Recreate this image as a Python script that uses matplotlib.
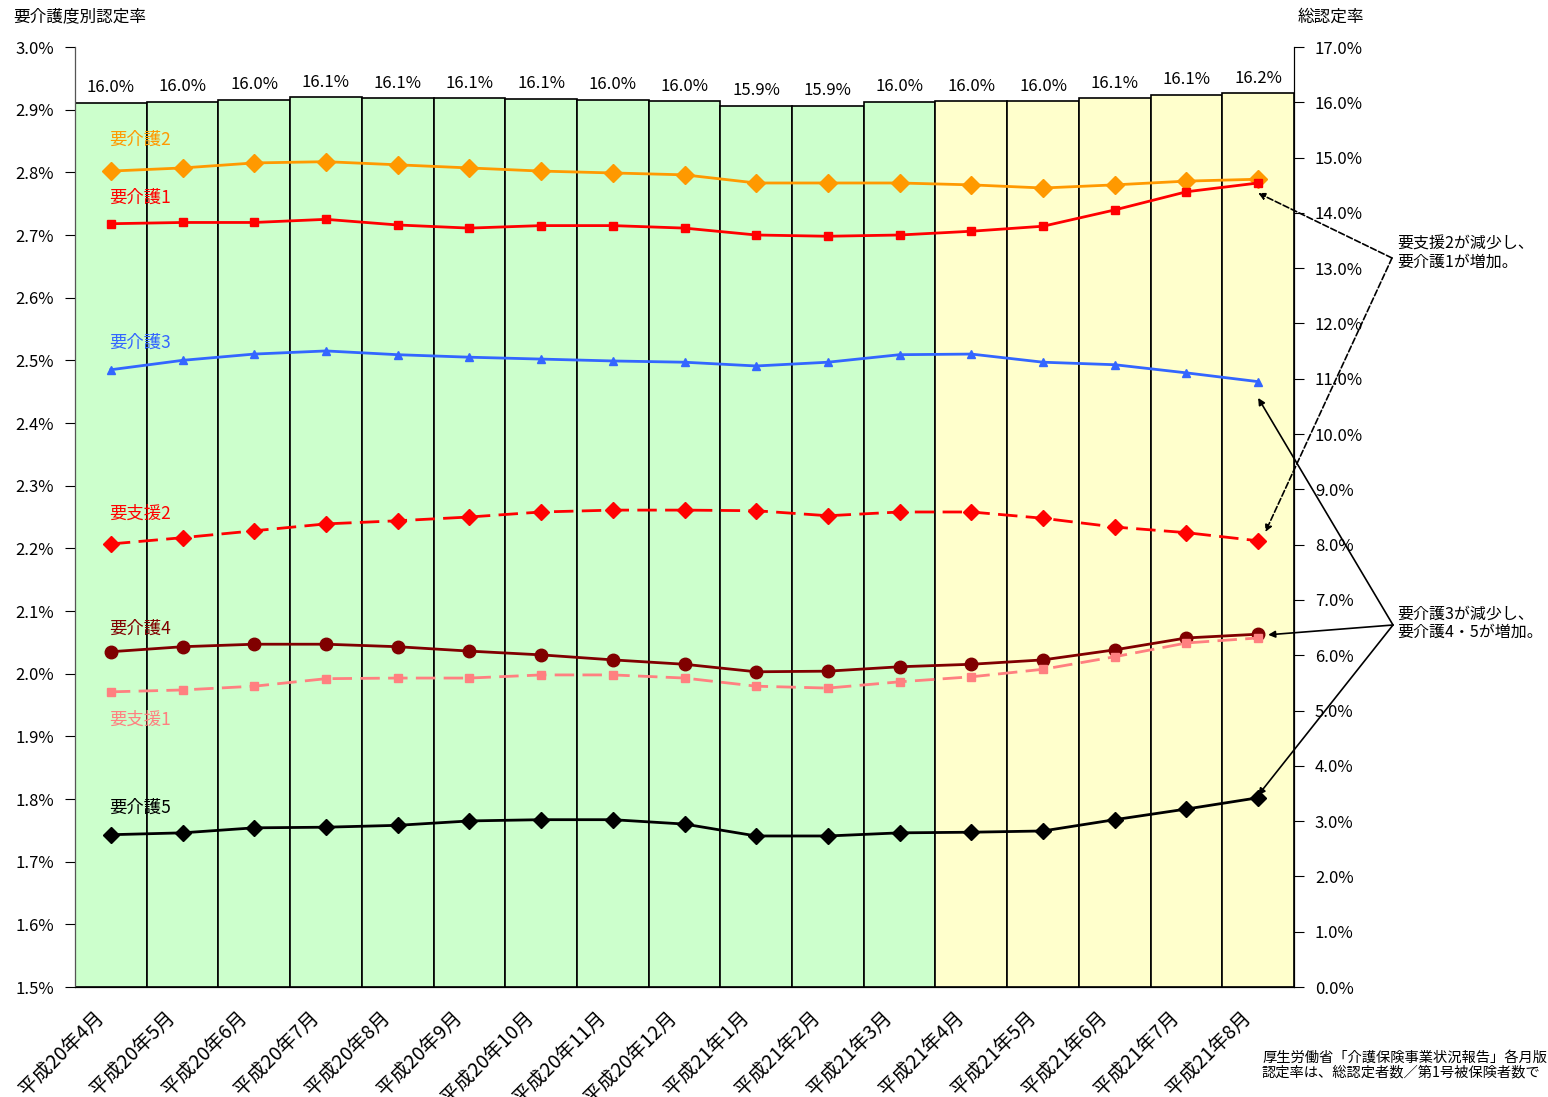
import matplotlib

matplotlib.use("Agg")
import matplotlib.pyplot as plt
import matplotlib.transforms as mtransforms
import numpy as np

plt.rcParams["font.family"] = ["Noto Sans CJK JP", "DejaVu Sans"]

# 月 (平成20年4月 ~ 平成21年8月)
months = ["平成20年4月", "平成20年5月", "平成20年6月", "平成20年7月", "平成20年8月",
          "平成20年9月", "平成20年10月", "平成20年11月", "平成20年12月", "平成21年1月",
          "平成21年2月", "平成21年3月", "平成21年4月", "平成21年5月", "平成21年6月",
          "平成21年7月", "平成21年8月"]

# 総認定率 (右軸, %)
total_rate = [15.99, 16.01, 16.04, 16.09, 16.07, 16.07, 16.06, 16.04, 16.02,
              15.94, 15.94, 16.01, 16.02, 16.02, 16.07, 16.13, 16.16]

# 要介護度別認定率 (左軸, %)
kaigo2 = [2.802, 2.807, 2.815, 2.817, 2.812, 2.807, 2.802, 2.799, 2.796,
          2.783, 2.783, 2.783, 2.780, 2.775, 2.780, 2.786, 2.789]
kaigo1 = [2.718, 2.720, 2.720, 2.725, 2.716, 2.711, 2.715, 2.715, 2.711,
          2.700, 2.698, 2.700, 2.706, 2.714, 2.740, 2.769, 2.783]
kaigo3 = [2.485, 2.500, 2.510, 2.515, 2.509, 2.505, 2.502, 2.499, 2.497,
          2.491, 2.497, 2.509, 2.510, 2.497, 2.493, 2.480, 2.466]
shien2 = [2.207, 2.217, 2.228, 2.239, 2.244, 2.250, 2.258, 2.261, 2.261,
          2.260, 2.252, 2.258, 2.258, 2.248, 2.234, 2.225, 2.212]
kaigo4 = [2.035, 2.043, 2.047, 2.047, 2.043, 2.036, 2.030, 2.022, 2.015,
          2.003, 2.004, 2.011, 2.015, 2.022, 2.038, 2.057, 2.063]
shien1 = [1.971, 1.974, 1.980, 1.992, 1.993, 1.993, 1.998, 1.998, 1.993,
          1.980, 1.977, 1.987, 1.995, 2.007, 2.027, 2.049, 2.057]
kaigo5 = [1.743, 1.746, 1.754, 1.755, 1.758, 1.765, 1.767, 1.767, 1.760,
          1.741, 1.741, 1.746, 1.747, 1.749, 1.767, 1.784, 1.802]

x = np.arange(len(months))

fig = plt.figure(figsize=(15.48, 10.97), dpi=100)
ax = fig.add_axes([75 / 1548, 1 - 987 / 1097, (1294 - 75) / 1548, (987 - 47) / 1097])

# 棒 (総認定率) -> 右軸
bar_colors = ["#CCFFCC"] * 12 + ["#FFFFCC"] * 5
ax.bar(x, total_rate, width=1.0, color=bar_colors, edgecolor="black", linewidth=1.2)
for i, v in enumerate(total_rate):
    ax.text(i, v + 0.12, f"{v:.1f}%", ha="center", va="bottom", fontsize=12)
ax.set_ylim(0, 17)
ax.set_xlim(-0.5, len(months) - 0.5)
ax.set_xticks(x)
ax.set_xticklabels(months, rotation=45, ha="right", rotation_mode="anchor", fontsize=14)
ax.tick_params(axis="x", length=0, pad=10)
offset = mtransforms.ScaledTranslation(-18 / 100, -6 / 100, fig.dpi_scale_trans)
for lab in ax.get_xticklabels():
    lab.set_transform(lab.get_transform() + offset)
ax.spines["top"].set_visible(False)

# 折れ線 (要介護度別) -> 左軸
axl = ax.twinx()
ax.yaxis.tick_right()
ax.set_yticks(np.arange(0, 17.1, 1.0))
ax.set_yticklabels([f"{t:.1f}%" for t in np.arange(0, 17.1, 1.0)], fontsize=12)
ax.tick_params(axis="y", direction="out", length=7, pad=8)

axl.yaxis.tick_left()
axl.set_ylim(1.5, 3.0)
axl.set_yticks(np.arange(1.5, 3.01, 0.1))
axl.set_yticklabels([f"{t:.1f}%" for t in np.arange(1.5, 3.01, 0.1)], fontsize=12)
axl.tick_params(axis="y", direction="out", length=7, pad=8)
axl.spines["top"].set_visible(False)
axl.spines["left"].set_color("#555555")

series = [
    ("要介護2", kaigo2, "#FF9900", "D", 9, "-", 2.852),
    ("要介護1", kaigo1, "#FF0000", "s", 6, "-", 2.759),
    ("要介護3", kaigo3, "#3366FF", "^", 6, "-", 2.528),
    ("要支援2", shien2, "#FF0000", "D", 8, "--", 2.255),
    ("要介護4", kaigo4, "#800000", "o", 9, "-", 2.071),
    ("要支援1", shien1, "#FF8080", "s", 6, "--", 1.926),
    ("要介護5", kaigo5, "#000000", "D", 8, "-", 1.786),
]
for name, vals, col, mk, ms, ls, label_y in series:
    line, = axl.plot(x, vals, color=col, marker=mk, markersize=ms, linewidth=2,
                     linestyle=ls, zorder=3)
    if ls == "--":
        line.set_dashes((7, 3))
    axl.text(-0.03, label_y, name, color=col, fontsize=12.5, ha="left", va="center")

# 注記
arrow_dash = dict(arrowstyle="-|>", linestyle="--", color="black", lw=1.2,
                  mutation_scale=10, shrinkA=0, shrinkB=0)
arrow_solid = dict(arrowstyle="-|>", color="black", lw=1.2,
                   mutation_scale=10, shrinkA=0, shrinkB=0)
src1 = (1392, 1097 - 258)
for tx, ty in [(16.0, 2.767), (16.1, 2.226)]:
    axl.annotate("", xy=(tx, ty), xycoords="data", xytext=src1,
                 textcoords="figure pixels", arrowprops=arrow_dash)
src2 = (1393, 1097 - 625)
for tx, ty in [(16.0, 2.440), (16.14, 2.062), (16.0, 1.806)]:
    axl.annotate("", xy=(tx, ty), xycoords="data", xytext=src2,
                 textcoords="figure pixels", arrowprops=arrow_solid)
fig.text(1397 / 1548, 1 - 253 / 1097, "要支援2が減少し、\n要介護1が増加。",
         fontsize=11.5, ha="left", va="center", linespacing=1.1)
fig.text(1397 / 1548, 1 - 623 / 1097, "要介護3が減少し、\n要介護4・5が増加。",
         fontsize=11.5, ha="left", va="center", linespacing=1.1)

fig.text(13 / 1548, 1 - 17 / 1097, "要介護度別認定率", fontsize=12, ha="left", va="center")
fig.text(1298 / 1548, 1 - 17 / 1097, "総認定率", fontsize=12, ha="left", va="center")
fig.text(1262 / 1548, 1 - 1065 / 1097,
         "厚生労働省「介護保険事業状況報告」各月版\n認定率は、総認定者数／第1号被保険者数で",
         fontsize=10.3, ha="left", va="center", linespacing=1.1)

fig.savefig("out.png", dpi=100)
